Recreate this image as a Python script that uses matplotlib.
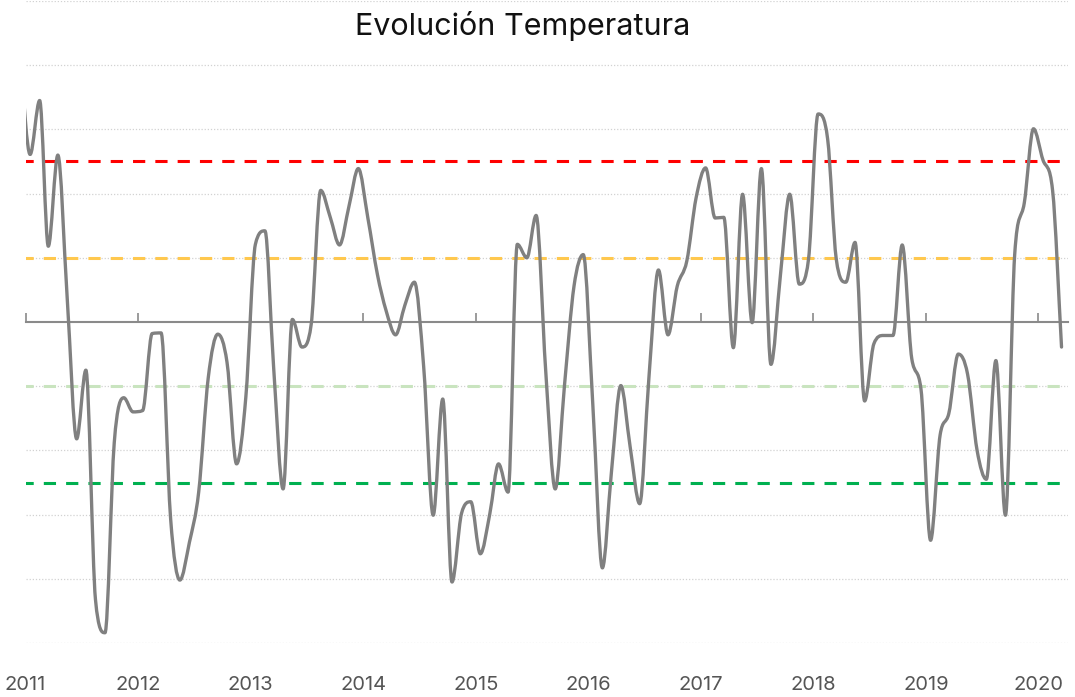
import numpy as np
import pandas as pd
import matplotlib
matplotlib.use("Agg")
import matplotlib.pyplot as plt
import matplotlib.dates as mdates
from matplotlib.path import Path
from matplotlib.patches import PathPatch

plt.rcParams['font.family'] = ['Inter', 'DejaVu Sans']

# ---- data (monthly, mid-month), Dec 2010 .. Mar 2020 ----
fechas = pd.date_range('2010-12-01', '2020-03-01', freq='MS') + pd.Timedelta(days=15)
temperatura = [
    4.0,
    2.61, 3.45, 1.18, 2.60, 0.40, -1.82, -0.75, -4.32, -4.84, -1.88, -1.18, -1.40,
    -1.38, -0.18, -0.17, -3.07, -4.02, -3.43, -2.65, -0.87, -0.19, -0.63, -2.21, -1.17,
    1.21, 1.42, -0.69, -2.60, 0.04, -0.39, -0.04, 2.05, 1.63, 1.20, 1.81, 2.39,
    1.62, 0.74, 0.18, -0.20, 0.26, 0.62, -0.69, -3.01, -1.20, -4.05, -2.98, -2.80,
    -3.61, -2.98, -2.21, -2.65, 1.21, 1.00, 1.66, -0.75, -2.60, -0.99, 0.56, 1.05,
    -1.29, -3.83, -2.36, -0.99, -1.94, -2.83, -0.87, 0.81, -0.20, 0.56, 0.95, 1.93,
    2.40, 1.62, 1.63, -0.40, 1.99, -0.01, 2.39, -0.66, 0.74, 1.99, 0.59, 0.98,
    3.24, 2.85, 0.98, 0.62, 1.24, -1.23, -0.34, -0.21, -0.21, 1.20, -0.57, -1.05,
    -3.40, -1.76, -1.43, -0.50, -0.81, -2.00, -2.45, -0.60, -3.01, 1.05, 1.85, 3.01,
    2.52, 2.05, -0.39,
]
umbrales = [2.5, 1.0, -1.0, -2.5]
colores_umbral = ['#FF0000', '#FFC84E', '#C9E4BF', '#00B050']
anios = list(range(2011, 2021))
titulo = 'Evolución Temperatura'


def monotone_path(x, y):
    x = np.asarray(x, float); y = np.asarray(y, float)
    n = len(x)
    dx = np.diff(x); d = np.diff(y) / dx
    m = np.zeros(n)
    m[0] = d[0]; m[-1] = d[-1]
    for i in range(1, n - 1):
        m[i] = 0.0 if d[i - 1] * d[i] <= 0 else (d[i - 1] + d[i]) / 2
    for k in range(n - 1):
        if d[k] == 0:
            m[k] = m[k + 1] = 0
            continue
        a = m[k] / d[k]; b = m[k + 1] / d[k]
        h = a * a + b * b
        if h > 9:
            t = 3 / np.sqrt(h)
            m[k] = t * a * d[k]; m[k + 1] = t * b * d[k]
    verts = [(x[0], y[0])]
    codes = [Path.MOVETO]
    for k in range(n - 1):
        h3 = dx[k] / 3
        verts += [(x[k] + h3, y[k] + m[k] * h3), (x[k + 1] - h3, y[k + 1] - m[k + 1] * h3), (x[k + 1], y[k + 1])]
        codes += [Path.CURVE4] * 3
    return Path(verts, codes)


W, H = 1075, 697
fig = plt.figure(figsize=(W / 100, H / 100), dpi=100)
ax = fig.add_axes([25.5 / W, (H - 643) / H, (1068 - 25.5) / W, 642 / H])

xn = mdates.date2num(fechas)
ax.set_xlim(mdates.date2num(pd.Timestamp('2011-01-01')), mdates.date2num(pd.Timestamp('2020-04-06')))
ax.set_ylim(-5, 5)

# grid
for v in range(-5, 6):
    if v == 0:
        continue
    ax.axhline(v, color='#d2d2d2', lw=0.9, ls=(0, (1, 1.5)), zorder=1)

# threshold lines
for u, c in zip(umbrales, colores_umbral):
    ax.plot(xn, [u] * len(xn), color=c, lw=2.2, ls=(0, (4, 3.3)), zorder=2, solid_capstyle='butt')

# temperature line
patch = PathPatch(monotone_path(xn, temperatura), facecolor='none', edgecolor='#808080', lw=2.4,
                  zorder=3, capstyle='round', joinstyle='round')
ax.add_patch(patch)

for s in ['top', 'right', 'left']:
    ax.spines[s].set_visible(False)
ax.spines['bottom'].set_position(('data', 0))
ax.spines['bottom'].set_color('#8a8a8a')
ax.spines['bottom'].set_linewidth(1.5)
ax.set_yticks([])
tick_pos = [mdates.date2num(pd.Timestamp(f'{a}-01-01')) for a in anios]
ax.set_xticks(tick_pos)
ax.set_xticklabels([])
ax.tick_params(axis='x', direction='in', length=6.5, width=1.2, color='#8a8a8a')

sec = ax.secondary_xaxis(0)
sec.set_xticks(tick_pos)
sec.set_xticklabels([str(a) for a in anios])
sec.tick_params(axis='x', length=0, pad=23.5, labelsize=14.5, labelcolor='#555555')
sec.spines['bottom'].set_visible(False)

fig.text(523 / W, (H - 26) / H, titulo, ha='center', va='center', fontsize=22, color='#111111')

fig.savefig('out.png', dpi=100)
